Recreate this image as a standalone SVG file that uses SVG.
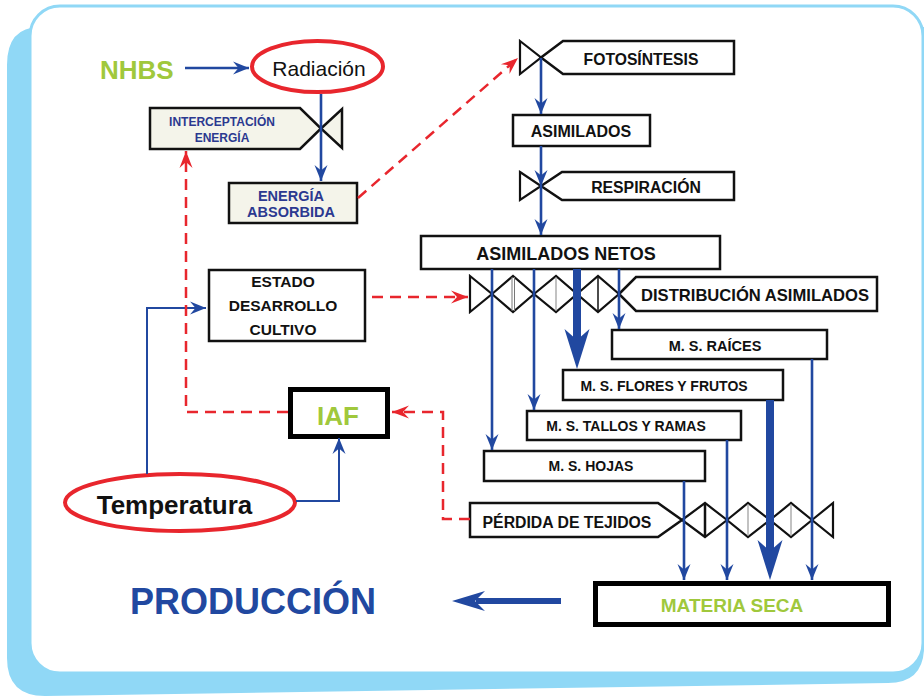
<svg xmlns="http://www.w3.org/2000/svg" width="924" height="696" viewBox="0 0 924 696">
<defs>
<style>
.t{font-family:"Liberation Sans",Arial,sans-serif;font-weight:bold;fill:#111;text-anchor:middle}
.box{fill:#fff;stroke:#111;stroke-width:2.5}
.cream{fill:#f4f4ea;stroke:#111;stroke-width:2.5}
.thick{fill:#fff;stroke:#000;stroke-width:5}
.valve{fill:#fff;stroke:#111;stroke-width:2.2;stroke-linejoin:miter}
.blue{stroke:#2148a0;stroke-width:2.6;fill:none}
.blueT{stroke:#2148a0;stroke-width:2;fill:none}
.red{stroke:#e8262d;stroke-width:2.5;stroke-dasharray:11 7;fill:none}
.ell{fill:#fff;stroke:#e8262d;stroke-width:4}
.navy{fill:#2b3990}
.green{fill:#a0c83c}
</style>
<marker id="ab" markerUnits="userSpaceOnUse" markerWidth="20" markerHeight="16" viewBox="-18 -8 20 16" refX="0" refY="0" orient="auto" overflow="visible"><path d="M0,0 L-16,-6.5 L-10.5,0 L-16,6.5 Z" fill="#2148a0"/></marker>
<marker id="ar" markerUnits="userSpaceOnUse" markerWidth="20" markerHeight="16" viewBox="-18 -8 20 16" refX="0" refY="0" orient="auto" overflow="visible"><path d="M0,0 L-17,-6.5 L-11,0 L-17,6.5 Z" fill="#e8262d"/></marker>
<marker id="abig" markerUnits="userSpaceOnUse" markerWidth="50" markerHeight="30" viewBox="-45 -15 50 30" refX="-25" refY="0" orient="auto" overflow="visible"><path d="M0,0 L-40,-12.5 L-29,0 L-40,12.5 Z" fill="#2148a0"/></marker>
<marker id="aprod" markerUnits="userSpaceOnUse" markerWidth="40" markerHeight="24" viewBox="-36 -12 40 24" refX="-24" refY="0" orient="auto" overflow="visible"><path d="M0,0 L-33,-10 L-23,0 L-33,10 Z" fill="#2148a0"/></marker>
</defs>

<g id="background">
<path d="M40 27 L924 27 L924 650 Q922 683 888 683 L45 696 Q7 696 7 658 L7 65 Q7 27 40 27 Z" fill="#90d8f6"/>
<rect x="30" y="6" width="893" height="667" rx="30" ry="30" fill="#fff" stroke="#90d8f6" stroke-width="3"/>
</g>

<g id="nhbs"><text x="100" y="79" class="t green" style="text-anchor:start;font-size:26px">NHBS</text></g>

<g id="radiacion">
<ellipse cx="317.5" cy="66.5" rx="65.5" ry="25.5" class="ell"/>
<text x="319" y="76" style="font-family:'Liberation Sans',Arial,sans-serif;font-size:21px;fill:#111;text-anchor:middle">Radiación</text>
</g>

<g id="interceptacion">
<path d="M150,108 L300,108 L321,128.5 L300,149 L150,149 Z" class="cream"/>
<path d="M321,128.5 L342,109 L342,148 Z" class="cream"/>
<text x="222" y="126" class="t navy" style="font-size:12px">INTERCEPTACIÓN</text>
<text x="222" y="142" class="t navy" style="font-size:12px">ENERGÍA</text>
</g>

<g id="energia-absorbida">
<rect x="229" y="183" width="128" height="40" class="cream"/>
<text x="291" y="201" class="t navy" style="font-size:14.5px">ENERGÍA</text>
<text x="291" y="217" class="t navy" style="font-size:14.5px">ABSORBIDA</text>
</g>

<g id="fotosintesis">
<path d="M520,41 L541,57.5 L520,74 Z" class="valve"/>
<path d="M541,57.5 L563,41 L734,41 L734,74 L563,74 Z" class="box"/>
<text x="641" y="65" class="t" style="font-size:15.7px">FOTOSÍNTESIS</text>
</g>

<g id="asimilados">
<rect x="513" y="115" width="137" height="31" class="box"/>
<text x="581" y="137" class="t" style="font-size:16px">ASIMILADOS</text>
</g>

<g id="respiracion">
<path d="M520,172 L541,186 L520,200 Z" class="valve"/>
<path d="M541,186 L562,172 L734,172 L734,200 L562,200 Z" class="box"/>
<text x="646" y="193" class="t" style="font-size:15.8px">RESPIRACIÓN</text>
</g>

<g id="asimilados-netos">
<rect x="421" y="236" width="299" height="33" class="box"/>
<text x="566" y="260" class="t" style="font-size:18px">ASIMILADOS NETOS</text>
</g>

<g id="distribucion">
<path d="M470,276 L492,294 L470,312 Z" class="valve"/>
<path d="M492,294 L513,276 L534,294 L513,312 Z" class="valve"/>
<path d="M534,294 L556,276 L577,294 L556,312 Z" class="valve"/>
<path d="M577,294 L598,276 L619,294 L598,312 Z" class="valve"/>
<path d="M512,277 V311 M514.5,277 V311" stroke="#777" stroke-width="1"/>
<path d="M556,277 V311" stroke="#999" stroke-width="1.2"/>
<path d="M598,277 V311" stroke="#111" stroke-width="1.5"/>
<path d="M619,294 L636,277 L877,277 L877,311 L636,311 Z" class="box"/>
<text x="755" y="301" class="t" style="font-size:16.6px">DISTRIBUCIÓN ASIMILADOS</text>
</g>

<g id="estado">
<rect x="209" y="270" width="156" height="71" class="box"/>
<text x="283" y="287" class="t" style="font-size:15.5px">ESTADO</text>
<text x="283" y="311" class="t" style="font-size:15.5px">DESARROLLO</text>
<text x="283" y="335" class="t" style="font-size:15.5px">CULTIVO</text>
</g>

<g id="ms-raices">
<rect x="612" y="330" width="215" height="29" class="box"/>
<text x="715" y="351" class="t" style="font-size:14.5px">M. S. RAÍCES</text>
</g>

<g id="ms-flores">
<rect x="563" y="370" width="220" height="30" class="box"/>
<text x="664" y="391" class="t" style="font-size:14px">M. S. FLORES Y FRUTOS</text>
</g>

<g id="ms-tallos">
<rect x="527" y="411" width="214" height="29" class="box"/>
<text x="626" y="431" class="t" style="font-size:14px">M. S. TALLOS Y RAMAS</text>
</g>

<g id="ms-hojas">
<rect x="484" y="451" width="221" height="30" class="box"/>
<text x="591" y="471" class="t" style="font-size:14px">M. S. HOJAS</text>
</g>

<g id="iaf">
<rect x="290.5" y="389.5" width="97" height="47" class="thick"/>
<text x="338" y="425" class="t green" style="font-size:26px">IAF</text>
</g>

<g id="perdida">
<path d="M470,503 L658,503 L682,520 L658,537 L470,537 Z" class="box"/>
<path d="M682,520 L705,503 L727,520 L705,537 Z" class="valve"/>
<path d="M727,520 L748,503 L770,520 L748,537 Z" class="valve"/>
<path d="M770,520 L791,503 L812,520 L791,537 Z" class="valve"/>
<path d="M812,520 L833,503 L833,537 Z" class="valve"/>
<path d="M705,504 V536" stroke="#111" stroke-width="2.5"/>
<path d="M748,504 V536" stroke="#999" stroke-width="1.2"/>
<path d="M791,504 V536" stroke="#999" stroke-width="1.2"/>
<text x="567" y="528" class="t" style="font-size:15.8px">PÉRDIDA DE TEJIDOS</text>
</g>

<g id="temperatura">
<ellipse cx="180" cy="502.5" rx="115" ry="28.5" class="ell"/>
<text x="174.5" y="514" class="t" style="font-size:26px">Temperatura</text>
</g>

<g id="materia-seca">
<rect x="595.5" y="583.5" width="293" height="41" class="thick"/>
<text x="732" y="612" class="t green" style="font-size:19px">MATERIA SECA</text>
</g>

<g id="produccion">
<text x="253" y="614" class="t" style="font-size:36px;fill:#2148a0">PRODUCCIÓN</text>
</g>

<g id="connectors">
<path d="M185,68 L249,68" class="blue" marker-end="url(#ab)"/>
<path d="M321,94 L321,181" class="blue" marker-end="url(#ab)"/>
<path d="M358,198 L518,58" class="red" marker-end="url(#ar)"/>
<path d="M541,58 L541,114" class="blue" marker-end="url(#ab)"/>
<path d="M541,146 L541,186" class="blue" marker-end="url(#ab)"/>
<path d="M541,186 L541,235" class="blue" marker-end="url(#ab)"/>
<path d="M492,269 L492,450" class="blue" marker-end="url(#ab)"/>
<path d="M534,269 L534,410" class="blue" marker-end="url(#ab)"/>
<path d="M577,269 L577,344" stroke="#2148a0" stroke-width="8" fill="none" marker-end="url(#abig)"/>
<path d="M619,269 L619,329" class="blue" marker-end="url(#ab)"/>
<path d="M684,481 L684,580" class="blue" marker-end="url(#ab)"/>
<path d="M727,440 L727,580" class="blue" marker-end="url(#ab)"/>
<path d="M770,400 L770,555" stroke="#2148a0" stroke-width="8" fill="none" marker-end="url(#abig)"/>
<path d="M812,359 L812,580" class="blue" marker-end="url(#ab)"/>
<path d="M561,601 L476,601" stroke="#2148a0" stroke-width="6" fill="none" marker-end="url(#aprod)"/>
<path d="M147,474 L147,308 L206,308" class="blueT" marker-end="url(#ab)"/>
<path d="M296,501 L339,501 L339,438" class="blueT" marker-end="url(#ab)"/>
<path d="M372,297 L468,297" class="red" marker-end="url(#ar)"/>
<path d="M288,412 L186,412 L186,151" class="red" marker-end="url(#ar)"/>
<path d="M470,519 L443,519 L443,412 L392,412" class="red" marker-end="url(#ar)"/>
</g>
</svg>
